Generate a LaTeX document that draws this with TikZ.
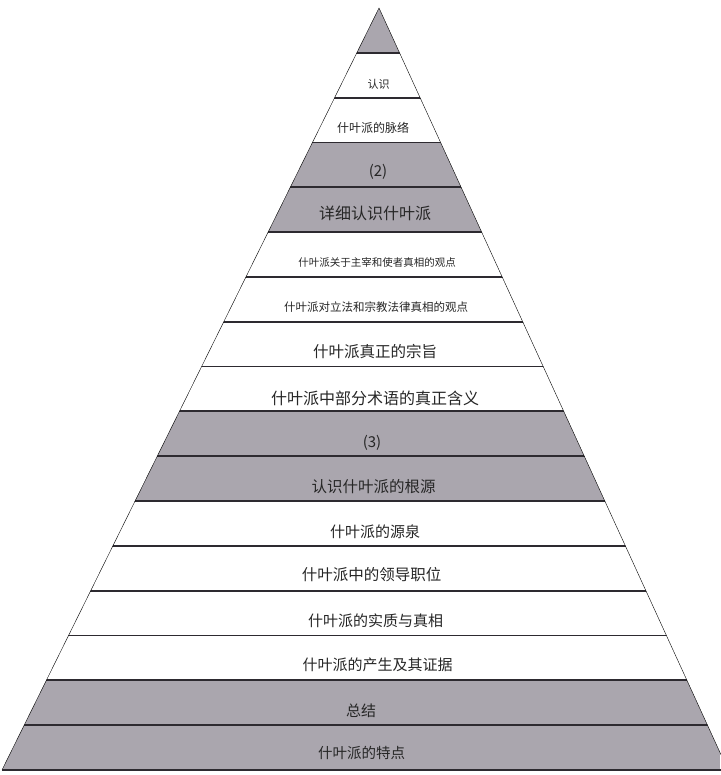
\documentclass[tikz,border=0pt]{standalone}
\usepackage{fontspec}
\newfontfamily\cjk{Noto Sans CJK SC}
\definecolor{bandgray}{RGB}{170,166,174}
\definecolor{sepcolor}{RGB}{45,42,48}
\tikzset{
  bandtext/.style={font=\cjk, inner sep=0pt, text=black!85},
  sepline/.style={draw=sepcolor, line width=1.8pt},
}
\begin{document}
\begin{tikzpicture}[x=1pt, y=-1pt]
      \useasboundingbox (0,0) rectangle (720,775);
      \fill[white] (0,0) rectangle (720,775);
      \coordinate (Apex) at (379,8);
      \coordinate (BL) at (2,770);
      \coordinate (BR) at (728,770);
      \begin{scope}
        \clip (Apex) -- (BL) -- (BR) -- cycle;
        % Draw the gray layers
        \foreach \i in {0,3,4,9,10,15,16}
          \fill[bandgray] (0,{8+44.82*\i}) rectangle (720,{8+44.82*(\i+1)});
        % Draw the separators
        \foreach \i in {1,...,16}
          \draw[sepline] (0,{8+44.82*\i}) -- (720,{8+44.82*\i});
      \end{scope}
      \draw[thin] (BL) -- (Apex) -- (BR);
      \draw[sepline] (BL) -- (BR);
      % Layer texts
      \node[bandtext, font=\cjk\fontsize{11}{13}\selectfont] (renshi) at (378.5,84) {认识};
      \node[bandtext, font=\cjk\fontsize{12}{14}\selectfont] (mailuo) at (373,128) {什叶派的脉络};
      \node[bandtext, font=\cjk\fontsize{15}{17}\selectfont] (part2) at (378,172) {(2)};
      \node[bandtext, font=\cjk\fontsize{16}{18}\selectfont] (xiangxi) at (375,213) {详细认识什叶派};
      \node[bandtext, font=\cjk\fontsize{10.5}{12}\selectfont] (zhuzai) at (377,262) {什叶派关于主宰和使者真相的观点};
      \node[bandtext, font=\cjk\fontsize{11.5}{13}\selectfont] (lifa) at (376,307) {什叶派对立法和宗教法律真相的观点};
      \node[bandtext, font=\cjk\fontsize{15.5}{18}\selectfont] (zongzhi) at (375,352) {什叶派真正的宗旨};
      \node[bandtext, font=\cjk\fontsize{16}{18}\selectfont] (shuyu) at (375,398) {什叶派中部分术语的真正含义};
      \node[bandtext, font=\cjk\fontsize{15}{17}\selectfont] (part3) at (372,443) {(3)};
      \node[bandtext, font=\cjk\fontsize{15.5}{18}\selectfont] (genyuan) at (373.5,487) {认识什叶派的根源};
      \node[bandtext, font=\cjk\fontsize{15}{17}\selectfont] (yuanquan) at (375,532) {什叶派的源泉};
      \node[bandtext, font=\cjk\fontsize{15.5}{18}\selectfont] (lingdao) at (371.5,575) {什叶派中的领导职位};
      \node[bandtext, font=\cjk\fontsize{15}{17}\selectfont] (shizhi) at (375.5,621) {什叶派的实质与真相};
      \node[bandtext, font=\cjk\fontsize{15}{17}\selectfont] (chansheng) at (377.5,665) {什叶派的产生及其证据};
      \node[bandtext, font=\cjk\fontsize{15}{17}\selectfont] (zongjie) at (361,711) {总结};
      \node[bandtext, font=\cjk\fontsize{14.5}{17}\selectfont] (tedian) at (361.5,753) {什叶派的特点};
    \end{tikzpicture}
\end{document}
